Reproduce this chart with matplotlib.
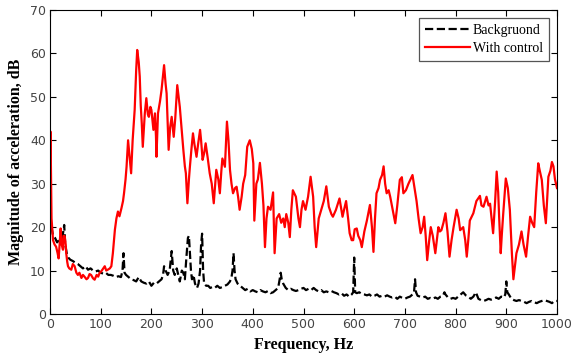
import matplotlib
matplotlib.use("Agg")
import matplotlib.pyplot as plt

# ---- data ----
red_freq = [0, 1, 3, 6, 9, 12, 15, 17, 19, 21, 23, 25.6, 27, 29, 31, 32, 34, 35.5, 38, 42, 45, 48.6,
            52, 55, 58, 62, 65, 68, 72, 75, 78, 81, 85, 88, 92, 95, 98, 101, 105, 108, 111, 114, 118,
            121, 124, 128, 131, 134, 137, 141, 144, 146, 149, 151, 154, 157, 160, 163, 167, 170, 172,
            175, 177, 179, 181, 183, 187, 190, 193, 195, 198, 200, 204, 207, 209, 210, 213, 217, 220,
            225, 228, 230, 232, 234, 237, 240, 244, 247, 251, 256, 260, 263, 266, 268, 271, 274, 276,
            279, 282, 285, 289, 292, 296, 298, 301, 304, 307, 311, 315, 319, 323, 326, 328, 332, 335,
            338, 340, 345, 349, 352, 355, 358, 361, 365, 368, 371, 374, 378, 381, 385, 389, 394, 398,
            401, 403, 407, 410, 414, 418, 421, 424, 427, 430, 435, 440, 443, 447, 452, 456, 460, 463,
            466, 470, 473, 476, 479, 485, 490, 493, 496, 499, 504, 509, 514, 519, 522, 525, 530, 535,
            540, 545, 550, 555, 558, 564, 571, 577, 580, 584, 588, 591, 595, 598, 601, 605, 608, 612,
            615, 620, 625, 631, 635, 638, 641, 644, 648, 651, 655, 658, 661, 664, 668, 671, 676, 681,
            685, 690, 694, 697, 702, 707, 711, 715, 719, 723, 727, 731, 735, 738, 741, 744, 748, 751,
            755, 760, 763, 766, 769, 772, 776, 780, 784, 788, 792, 796, 802, 806, 809, 815, 819, 822,
            825, 828, 835, 841, 848, 851, 855, 861, 865, 868, 871, 874, 878, 881, 884, 886, 889, 891,
            894, 899, 903, 907, 911, 914, 917, 920, 925, 930, 934, 939, 943, 947, 951, 955, 959, 963,
            966, 970, 974, 978, 983, 987, 990, 993, 996, 1000]
red_db = [32, 42, 22, 17, 16, 15.5, 14, 12.8, 16, 19.7, 16, 14.8, 18, 17.9, 16, 14, 12, 11, 10.5, 10.2,
          11.5, 11, 9.5, 9, 9.5, 8.3, 9, 8.6, 8, 8.3, 9.2, 9, 8.2, 7.9, 9, 8.6, 9.5, 9.8, 10.5, 11, 10,
          10.2, 10.5, 11, 14, 19.4, 22, 23.6, 22.5, 24.4, 26, 27.8, 31, 33.9, 40, 36.2, 32.4, 40, 47,
          56.2, 60.8, 58, 54.7, 48, 43.9, 38.5, 46.2, 49.7, 46, 45.4, 47.7, 47, 42.4, 46.2, 41, 36.2,
          46.2, 49, 51.6, 57.3, 53, 50.8, 44, 37.8, 43, 45.4, 40.8, 45, 52.7, 47.7, 42, 37.8, 34, 32.4,
          25.5, 31, 34, 38, 41.6, 39, 36.2, 39, 42.4, 40, 35.5, 37, 39.3, 36, 32.4, 30, 25.5, 30, 33.2,
          31, 27.8, 33, 35.8, 33.9, 44.3, 40, 33.2, 30, 27.8, 29, 29.3, 27, 24, 27, 30, 32, 38.5, 40,
          38, 34.7, 21.5, 30, 31, 34.8, 30, 25, 15.4, 22, 24.7, 24, 28, 14, 22, 23, 21, 22, 20, 23, 21,
          17.7, 24, 28.5, 27, 22, 20, 24, 26, 24, 27, 31.6, 27, 20, 15.4, 22, 24, 26, 29.4, 24.7, 23,
          22.4, 24, 26.6, 22.4, 24, 26, 22, 18.6, 17, 17, 19.5, 19.7, 18, 17, 15.4, 19, 21.5, 25.1, 20,
          14.3, 22, 27.8, 29, 30.9, 32, 34, 30, 27.8, 28.5, 27, 24, 20.9, 25, 30.9, 31.5, 27.8, 28.5,
          30, 31, 32, 29, 26, 22, 18.6, 20, 22.4, 18, 12.4, 17, 20, 18, 14, 17, 20, 19, 19.3, 21, 23.2,
          19, 13.2, 17, 20, 24, 22, 19.3, 20, 17, 13.2, 17, 21.5, 23.2, 26, 27.2, 25, 24.7, 27, 25,
          25.4, 22, 18.6, 26, 32.8, 28, 22, 14, 18, 23.2, 31.2, 29, 24, 14, 8, 11, 14, 16, 19, 16, 13.2,
          18, 22.4, 21, 20, 28, 34.7, 33, 30.9, 25, 20.9, 31.6, 33, 35, 34, 31, 29]

bg_freq = [0, 1, 3, 6, 10, 14, 18, 22, 25, 28, 30, 33, 36, 40, 45, 50, 55, 60, 65, 70, 75, 80, 85, 90,
           95, 100, 105, 110, 115, 120, 125, 130, 135, 140, 143, 145, 147, 150, 155, 160, 165, 170,
           175, 180, 185, 190, 195, 200, 205, 210, 215, 220, 223, 225, 228, 232, 236, 240, 243, 246,
           250, 253, 256, 260, 263, 266, 269, 272, 274, 276, 278, 280, 283, 286, 290, 293, 296, 298,
           300, 302, 304, 308, 312, 316, 320, 325, 330, 335, 340, 345, 350, 355, 358, 360, 362, 364,
           366, 370, 375, 380, 385, 390, 395, 400, 405, 410, 415, 420, 425, 430, 435, 440, 445, 450,
           453, 455, 457, 460, 465, 470, 475, 480, 485, 490, 495, 500, 505, 510, 515, 520, 525, 530,
           535, 540, 545, 550, 555, 560, 565, 570, 575, 580, 585, 590, 595, 598, 600, 602, 605, 610,
           615, 620, 625, 630, 635, 640, 645, 650, 655, 660, 665, 670, 675, 680, 685, 690, 695, 700,
           705, 710, 715, 718, 720, 722, 725, 730, 735, 740, 745, 750, 755, 760, 765, 770, 775, 778,
           780, 785, 790, 795, 800, 805, 810, 815, 820, 825, 830, 835, 840, 845, 850, 855, 860, 865,
           870, 875, 880, 885, 890, 895, 898, 900, 902, 905, 910, 915, 920, 925, 930, 935, 940, 945,
           950, 955, 960, 965, 970, 975, 980, 985, 990, 995, 1000]
bg_db = [31, 22, 20, 18, 17.5, 16.5, 17, 17, 18, 20.5, 16, 14, 13, 12.5, 12.2, 11.8, 11.5, 11, 10.5, 11,
         10.2, 10.5, 10, 9.8, 10, 9.5, 9.3, 9.5, 9, 9, 8.8, 8.5, 8.7, 8.5, 10, 14, 9.5, 9, 8.5, 8, 7.8,
         7.5, 8.5, 7.5, 7.2, 7, 7.5, 6.5, 7.2, 7, 7.5, 8, 9, 11, 10, 9, 10, 14.5, 10, 9, 10.5, 9, 7.5,
         10, 9.5, 8, 13, 17.5, 18, 14, 10, 8, 9, 7, 6, 7, 10, 16, 18.5, 10, 7, 6.5, 6.5, 6, 6.2, 6, 6.5,
         6, 6.2, 6.5, 6.8, 7.5, 8.5, 10, 14, 10, 8, 7, 6.5, 6, 5.5, 5.8, 5.2, 5.5, 5.2, 5, 5.5, 5.2, 5,
         5.3, 4.8, 5, 5.5, 6, 8, 9.5, 8, 7, 6, 5.5, 5.8, 5.5, 5.3, 5.5, 5.8, 6, 5.5, 5.8, 5.5, 6, 5.5,
         5.2, 5.5, 5, 5.2, 5, 5.3, 5, 4.8, 4.5, 4.8, 4.2, 4.5, 4, 4.5, 5, 13, 5, 4.8, 5, 4.6, 4.5, 4.3,
         4.5, 4, 4.2, 4.5, 4, 4.2, 4, 4.3, 4, 3.8, 4, 3.5, 4, 3.7, 3.5, 3.8, 4, 4.5, 5, 8, 5, 4.2, 4,
         3.8, 4, 3.5, 3.7, 3.5, 3.8, 3.5, 4, 4.2, 5, 4.5, 3.8, 3.5, 3.7, 3.5, 4, 4.5, 5, 4.3, 4, 3.5,
         4, 5, 3.5, 3.2, 3, 3.2, 3.5, 3.3, 3.5, 3.8, 3.5, 4, 3.8, 4.5, 7.5, 5, 4.5, 3.5, 3.2, 3, 3.2,
         3, 2.8, 2.5, 2.8, 3, 2.7, 2.5, 2.8, 3, 3.2, 3, 2.8, 2.5, 3, 3]

x_ticks = [0, 100, 200, 300, 400, 500, 600, 700, 800, 900, 1000]
y_ticks = [0, 10, 20, 30, 40, 50, 60, 70]

plt.rcParams['font.family'] = ['Liberation Serif', 'DejaVu Serif']

fig = plt.figure(figsize=(5.74, 3.58), dpi=100)
ax = fig.add_axes([50 / 574, 44 / 358, 507 / 574, 304 / 358])

ax.plot(bg_freq, bg_db, color='black', linestyle='--', linewidth=1.6, label='Backgruond')
ax.plot(red_freq, red_db, color='#ff0000', linestyle='-', linewidth=1.6, label='With control')

ax.set_xlim(0, 1000)
ax.set_ylim(0, 70)
ax.set_xticks(x_ticks)
ax.set_yticks(y_ticks)
ax.tick_params(direction='in', top=True, right=True, length=4, width=0.8,
               labelsize=9, colors='black', labelcolor='#444444', pad=3)
for lab in ax.get_xticklabels() + ax.get_yticklabels():
    lab.set_family('DejaVu Sans')
for s in ax.spines.values():
    s.set_linewidth(0.8)

ax.set_xlabel('Frequency, Hz', fontsize=11.5, fontweight='bold', labelpad=4)
ax.set_ylabel('Magnitude of acceleration, dB', fontsize=11.5, fontweight='bold', labelpad=4)

leg = ax.legend(loc='upper right', fontsize=10, fancybox=False, framealpha=1,
                edgecolor='#555555', handlelength=3.2, borderpad=0.45, labelspacing=0.35,
                handletextpad=0.25, borderaxespad=0.55)
leg.get_frame().set_linewidth(0.9)

fig.savefig('out.png', dpi=100)
